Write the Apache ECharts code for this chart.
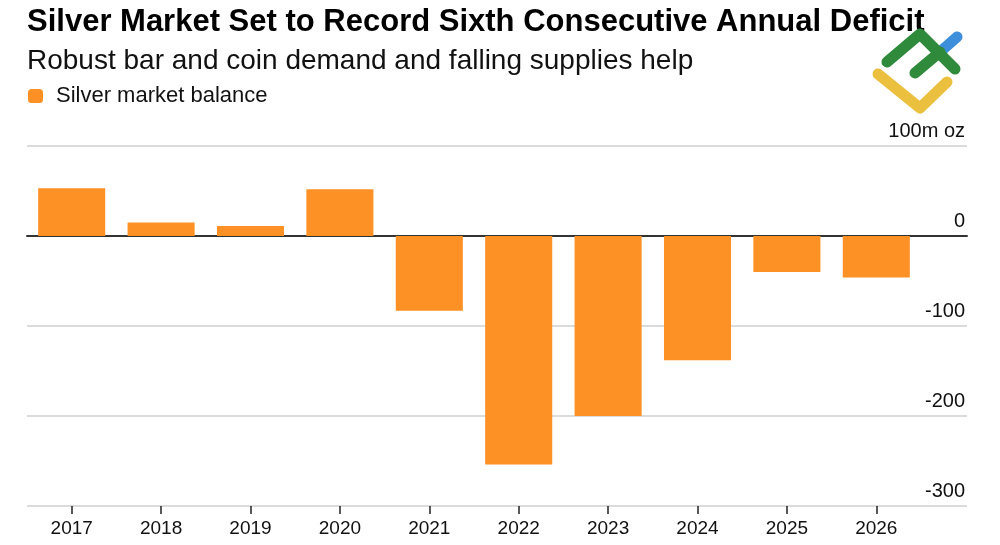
<!DOCTYPE html>
<html>
<head>
<meta charset="utf-8">
<script src="https://cdn.jsdelivr.net/npm/echarts@6/dist/echarts.min.js"></script>
<style>html,body{margin:0;padding:0;background:#fff;}#c{width:1000px;height:545px;}</style>
</head>
<body>
<div id="c"></div>
<script>
var years = ['2017','2018','2019','2020','2021','2022','2023','2024','2025','2026'];
var balance = [53, 15, 11, 52, -83, -254, -200, -138, -40, -46];
var yTicks = [-300, -200, -100, 0, 100];
var yTopLabel = '100m oz';

var chart = echarts.init(document.getElementById('c'));
var FONT = '"Liberation Sans", Arial, sans-serif';
chart.setOption({
  backgroundColor: '#ffffff',
  animation: false,
  title: [
    { text: 'Silver Market Set to Record Sixth Consecutive Annual Deficit', left: 22, top: 2,
      textStyle: { fontFamily: FONT, fontSize: 31, fontWeight: 'bold', color: '#000' } },
    { text: 'Robust bar and coin demand and falling supplies help', left: 22, top: 42,
      textStyle: { fontFamily: FONT, fontSize: 28, fontWeight: 'normal', color: '#111' } }
  ],
  legend: {
    left: 28, top: 85, padding: 0, icon: 'roundRect', itemWidth: 15, itemHeight: 14, itemGap: 10,
    textStyle: { fontFamily: FONT, fontSize: 22, color: '#111', padding: [0,0,0,8] },
    data: ['Silver market balance']
  },
  grid: [
    { left: 27, right: 33, top: 146, bottom: 39 },
    { left: 27, width: 894, top: 146, bottom: 39 }
  ],
  xAxis: [
    { type: 'value', gridIndex: 0, min: 0, max: 1, show: true,
      axisLine: { show: true, onZero: true, lineStyle: { color: '#333', width: 2 } },
      axisTick: { show: false }, axisLabel: { show: false }, splitLine: { show: false } },
    { type: 'category', gridIndex: 1, data: years,
      axisLine: { show: false, onZero: false },
      axisTick: { show: true, alignWithLabel: true, length: 8, lineStyle: { color: '#222', width: 1.5 } },
      axisLabel: { fontFamily: FONT, fontSize: 19, color: '#111', margin: 13 } }
  ],
  yAxis: [
    { type: 'value', gridIndex: 0, position: 'right', min: yTicks[0], max: yTicks[yTicks.length-1], interval: 100,
      axisLine: { show: false }, axisTick: { show: false },
      splitLine: { show: true, lineStyle: { color: '#cfcfcf', width: 1.5 } },
      axisLabel: { inside: true, margin: 2, verticalAlign: 'bottom', padding: [0,0,5,0],
        fontFamily: FONT, fontSize: 20, color: '#111',
        formatter: function (v) { return v === yTicks[yTicks.length-1] ? yTopLabel : String(v); } } },
    { type: 'value', gridIndex: 1, min: yTicks[0], max: yTicks[yTicks.length-1], interval: 100, show: false }
  ],
  graphic: [
    { type: 'polyline', z: 100, shape: { points: [[878,74],[920,108],[947,82]] },
      style: { stroke: '#ebc03f', lineWidth: 11, lineCap: 'round', lineJoin: 'round', fill: null } },
    { type: 'polyline', z: 101, shape: { points: [[940,52],[957,37]] },
      style: { stroke: '#3d8fdb', lineWidth: 11, lineCap: 'round', fill: null } },
    { type: 'polyline', z: 102, shape: { points: [[887,62],[920,34],[955,69]] },
      style: { stroke: '#2f8a3c', lineWidth: 11, lineCap: 'round', lineJoin: 'round', fill: null } },
    { type: 'polyline', z: 102, shape: { points: [[915,73],[940,52]] },
      style: { stroke: '#2f8a3c', lineWidth: 11, lineCap: 'round', fill: null } }
  ],
  series: [
    { name: 'Silver market balance', type: 'bar', xAxisIndex: 1, yAxisIndex: 1,
      data: balance, barCategoryGap: '25%', z: 1,
      itemStyle: { color: '#fd9125' } }
  ]
});
</script>
</body>
</html>
